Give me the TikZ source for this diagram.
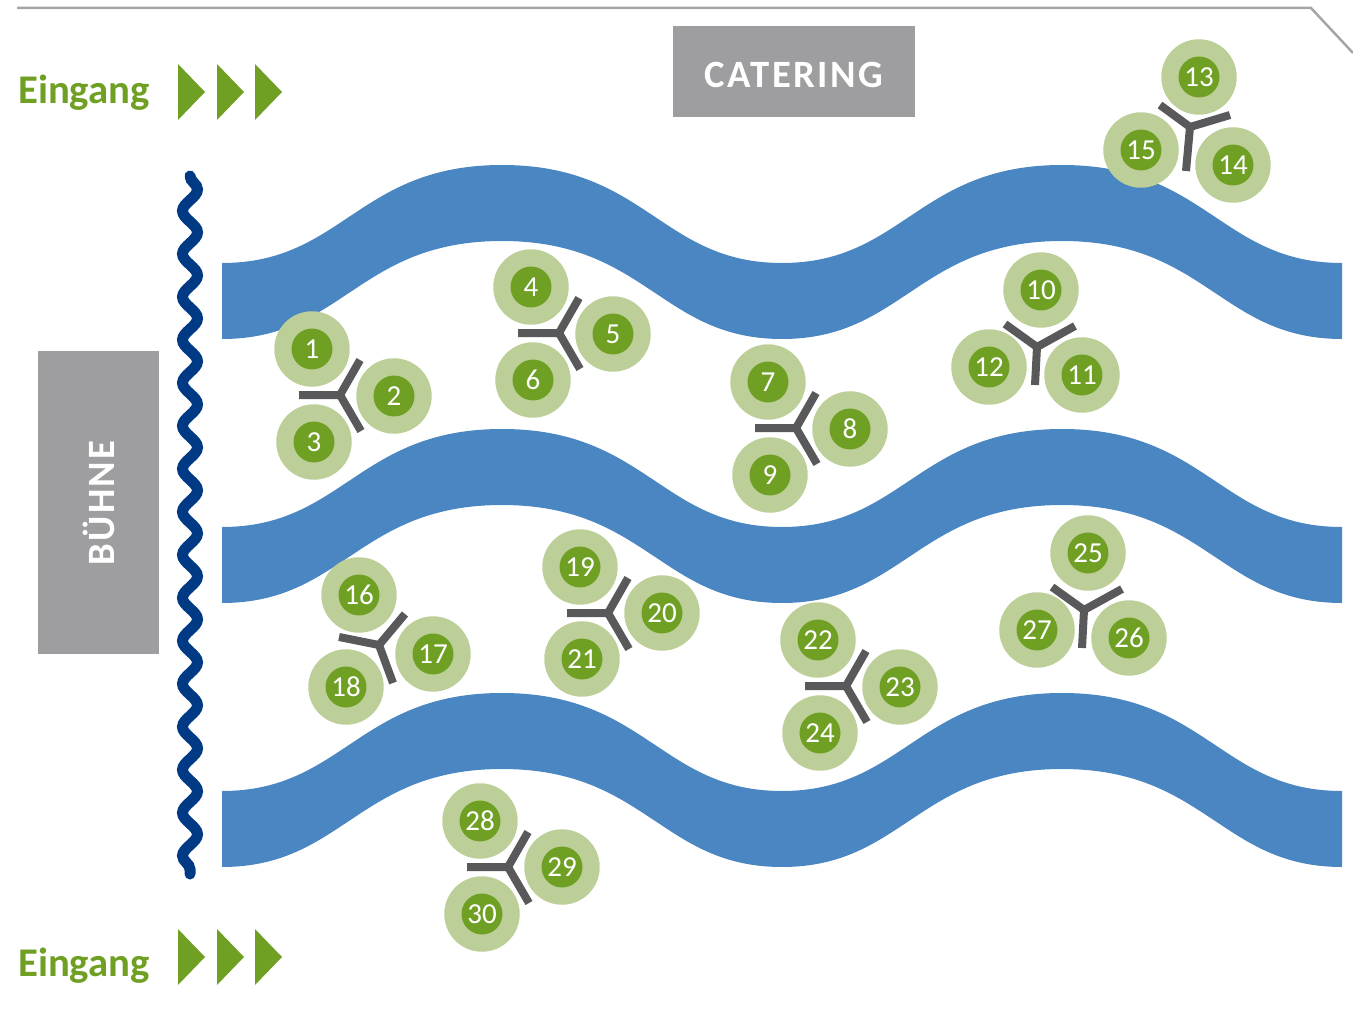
\documentclass[tikz,border=0pt]{standalone}
\usepackage{fontspec}
\setmainfont{Carlito}
\usetikzlibrary{decorations.pathmorphing}

\definecolor{wavecol}{RGB}{74,134,194}
\definecolor{stagecol}{RGB}{0,58,133}
\definecolor{boxcol}{RGB}{158,158,160}
\definecolor{framecol}{RGB}{165,165,167}
\definecolor{ringcol}{RGB}{189,207,152}
\definecolor{seatcol}{RGB}{111,160,36}
\definecolor{armcol}{RGB}{89,89,91}

\tikzset{
	ring/.style = {circle, fill=ringcol, minimum size=1.51cm, inner sep=0pt},
	seat/.style = {circle, fill=seatcol, minimum size=0.82cm, inner sep=0pt, text=white, font=\fontsize{16.5}{16.5}\selectfont},
	arm/.style = {armcol, line width=0.16cm},
	greybox/.style = {fill=boxcol, inner sep=0pt},
	boxtext/.style = {text=white, inner sep=0pt, font=\fontsize{22}{22}\selectfont\bfseries},
	entry/.style = {text=seatcol, font=\fontsize{23.2}{23.2}\selectfont\bfseries},
}

\begin{document}
\begin{tikzpicture}[x=0.02cm, y=-0.02cm]
	\useasboundingbox (0, 0) rectangle (1353, 1034);

	% frame
	\draw[framecol, line width=0.05cm] (17, 8) -- (1311, 8) -- (1353, 53);

	% aisles
	\foreach \y in {0, 264, 528} {
		\fill[wavecol, shift={(0, \y)}] (222, 263)
			.. controls (343, 263) and (358, 165) .. (502, 165)
			.. controls (646, 165) and (661, 263) .. (782, 263)
			.. controls (903, 263) and (918, 165) .. (1062, 165)
			.. controls (1206, 165) and (1221, 263) .. (1342, 263)
			-- (1342, 339)
			.. controls (1221, 339) and (1206, 241) .. (1062, 241)
			.. controls (918, 241) and (903, 339) .. (782, 339)
			.. controls (661, 339) and (646, 241) .. (502, 241)
			.. controls (358, 241) and (343, 339) .. (222, 339) -- cycle;
	}

	% stage edge
	\draw[stagecol, line width=0.22cm, line cap=round, decorate,
		decoration={snake, segment length=0.86cm, amplitude=0.15cm}] (190, 176) -- (190, 874);

	% boxes
	\node[greybox, minimum width=4.84cm, minimum height=1.82cm] (catering) at (794, 71.5) {};
	\node[boxtext] (cateringtext) at (794, 74.5) {\addfontfeature{LetterSpace=6.3}CATERING};
	\node[greybox, minimum width=2.42cm, minimum height=6.06cm] (stage) at (98.5, 502.5) {};
	\node[boxtext, rotate=90] (stagetext) at (98.5, 503) {\addfontfeature{LetterSpace=6.5}BÜHNE};

	% entrances
	\node[entry] (entrytop) at (84, 92.5) {Eingang};
	\node[entry] (entrybottom) at (84, 965.5) {Eingang};
	\foreach \y in {92, 957} {
		\foreach \x in {178, 217, 255} {
			\fill[seatcol] (\x, \y-28) -- (\x+27, \y) -- (\x, \y+28) -- cycle;
		}
	}

	% tables
	\foreach \hx/\hy/\ax/\ay/\bx/\by/\cx/\cy/\t in {
		340/395/299/395/360/360/361/431/a,
		559/333/518/333/579/298/580/369/b,
		796/428/755/428/816/393/817/464/c,
		508/867/467/867/528/832/529/903/d,
		608/613/567/613/628/578/629/649/e,
		846/686/805/686/866/651/867/722/f,
		1190/127/1160/105/1230/115/1186/171/g,
		1037/347/1005/324/1075/326/1035/385/h,
		1084/610/1052/587/1122/589/1082/648/i,
		379/645/339/637/405/614/393/683/j} {
		\coordinate (hub\t) at (\hx, \hy);
		\coordinate (armA\t) at (\ax, \ay);
		\coordinate (armB\t) at (\bx, \by);
		\coordinate (armC\t) at (\cx, \cy);
		\draw[arm] (armA\t) -- (hub\t) -- (armB\t);
		\draw[arm] (hub\t) -- (armC\t);
	}

	% seats
	\foreach \n/\x/\y in {
		1/312/349, 2/394/396, 3/314/442,
		4/531/287, 5/613/334, 6/533/380,
		7/768/382, 8/850/429, 9/770/475,
		10/1041/290, 11/1082/375, 12/989/367,
		13/1199/77, 14/1233/165, 15/1141/150,
		16/359/595, 17/433/654, 18/346/687,
		19/580/567, 20/662/613, 21/582/659,
		22/818/640, 23/900/687, 24/820/733,
		25/1088/553, 26/1129/638, 27/1037/630,
		28/480/821, 29/562/867, 30/482/914} {
		\node[ring] (ring\n) at (\x, \y) {};
		\node[seat] (seat\n) at (ring\n.center) {\n};
	}
\end{tikzpicture}
\end{document}
